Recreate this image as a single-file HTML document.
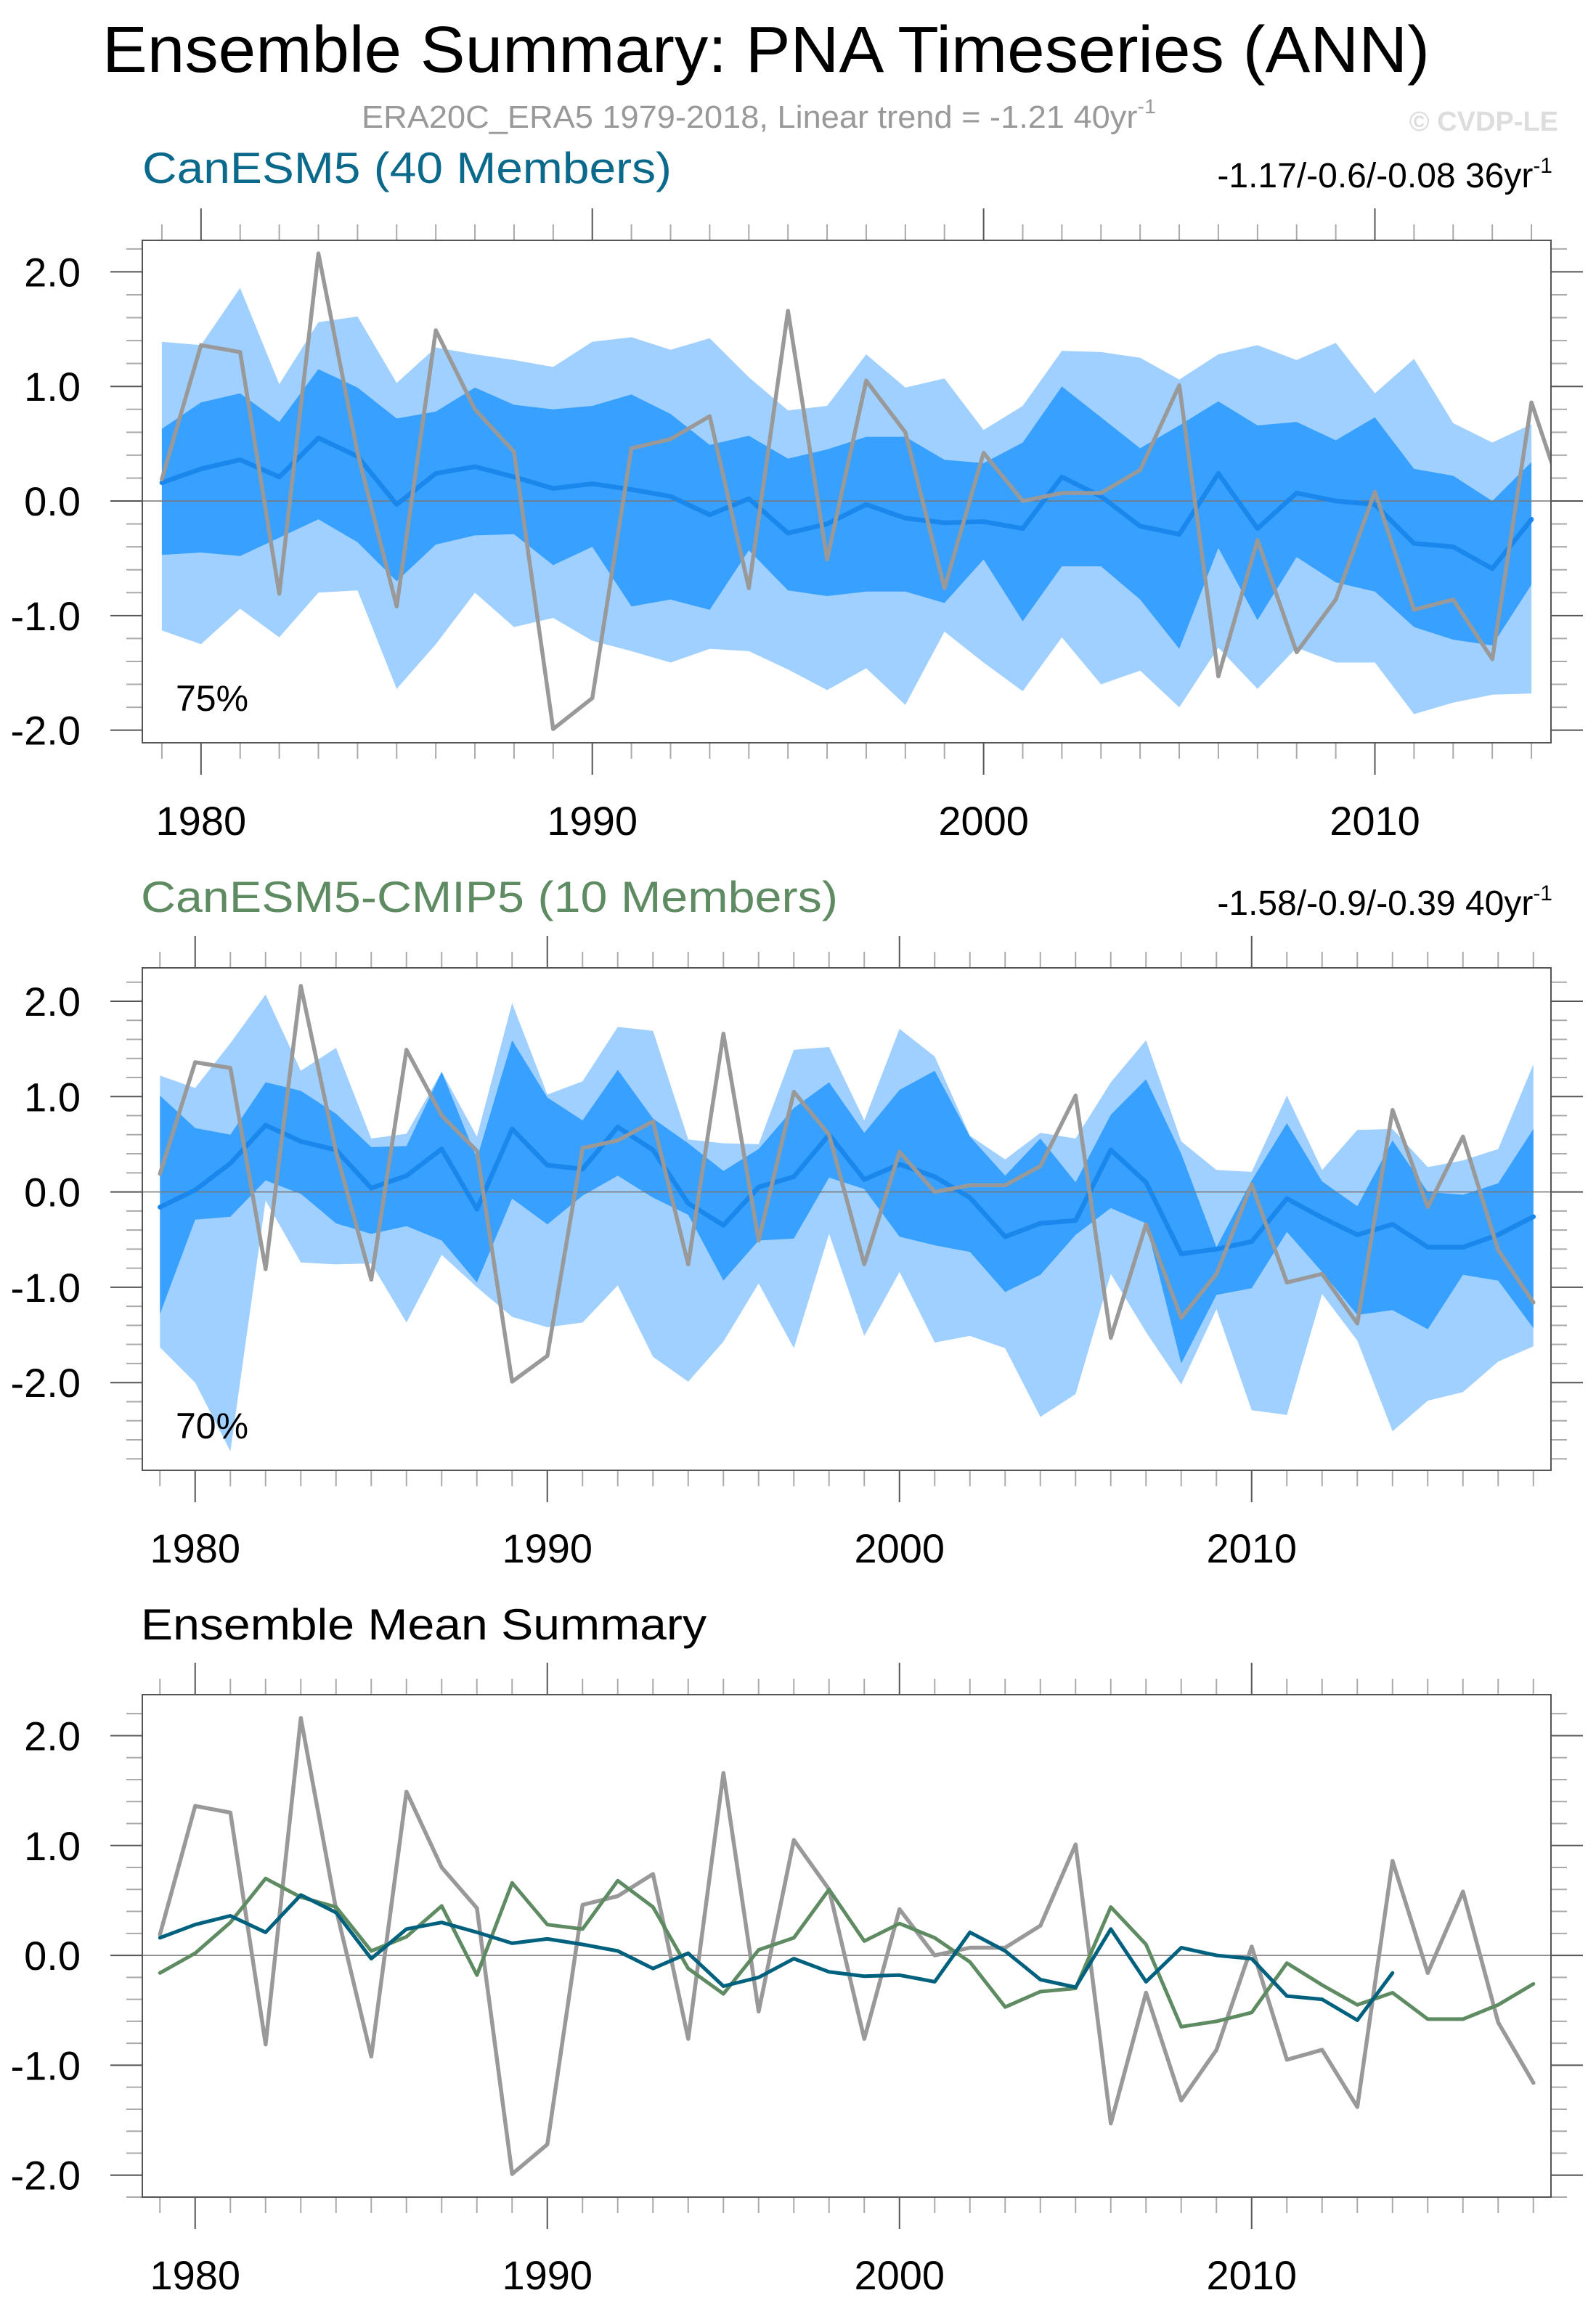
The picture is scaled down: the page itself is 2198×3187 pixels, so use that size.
<!DOCTYPE html>
<html>
<head>
<meta charset="utf-8">
<style>
html,body{margin:0;padding:0;background:#fff;}
svg{display:block;font-family:"Liberation Sans",sans-serif;}
</style>
</head>
<body>
<svg id="chart" xmlns="http://www.w3.org/2000/svg" width="2198" height="3187" viewBox="0 0 2198 3187">
  <rect x="0" y="0" width="2198" height="3187" fill="#fff"/>
  <text x="141" y="99" font-size="90" textLength="1828" lengthAdjust="spacingAndGlyphs" fill="#000">Ensemble Summary: PNA Timeseries (ANN)</text>
  <text x="498" y="176" font-size="44" fill="#999" textLength="1094" lengthAdjust="spacingAndGlyphs">ERA20C_ERA5 1979-2018, Linear trend = -1.21 40yr<tspan dy="-20" font-size="28">-1</tspan></text>
  <text x="2146" y="180" font-size="38" font-weight="bold" fill="#ddd" text-anchor="end">© CVDP-LE</text>

  <text x="196" y="252" font-size="60" fill="#0b6a8c" textLength="729" lengthAdjust="spacingAndGlyphs">CanESM5 (40 Members)</text>
  <text x="2138" y="258" font-size="48" fill="#000" text-anchor="end">-1.17/-0.6/-0.08 36yr<tspan dy="-20" font-size="30">-1</tspan></text>

  <text x="194" y="1256" font-size="60" fill="#5e8b62" textLength="960" lengthAdjust="spacingAndGlyphs">CanESM5-CMIP5 (10 Members)</text>
  <text x="2138" y="1260" font-size="48" fill="#000" text-anchor="end">-1.58/-0.9/-0.39 40yr<tspan dy="-20" font-size="30">-1</tspan></text>

  <text x="194" y="2258" font-size="60" fill="#000" textLength="779" lengthAdjust="spacingAndGlyphs">Ensemble Mean Summary</text>
  <g id="plots"></g>
</svg>
<script>
// ---------- data ----------
const obsYears0 = 1979;
const obsValues = [0.19,1.36,1.30,-0.81,2.16,0.42,-0.92,1.49,0.80,0.43,
  -1.99,-1.72,0.46,0.54,0.74,-0.76,1.66,-0.51,1.05,0.60,
  -0.76,0.42,0.00,0.07,0.07,0.27,1.01,-1.53,-0.34,-1.32,
  -0.86,0.08,-0.95,-0.86,-1.38,0.86,-0.16,0.58,-0.61,-1.16];

const canesm5Mean = [0.16,0.28,0.36,0.21,0.55,0.39,-0.03,0.24,0.30,0.21,
  0.11,0.15,0.10,0.04,-0.12,0.02,-0.28,-0.20,-0.03,-0.15,
  -0.19,-0.18,-0.24,0.21,0.04,-0.22,-0.29,0.24,-0.24,0.07,
  0.00,-0.03,-0.37,-0.40,-0.59,-0.16];
const canesm5OuterHigh = [1.39,1.36,1.86,1.02,1.56,1.61,1.03,1.34,1.28,1.23,
  1.17,1.39,1.43,1.32,1.42,1.08,0.79,0.83,1.28,0.99,
  1.07,0.62,0.83,1.31,1.30,1.25,1.06,1.28,1.36,1.23,
  1.38,0.94,1.24,0.68,0.51,0.67];
const canesm5InnerHigh = [0.63,0.86,0.94,0.69,1.15,0.99,0.72,0.78,0.99,0.84,
  0.80,0.83,0.93,0.76,0.49,0.57,0.37,0.45,0.56,0.56,
  0.36,0.33,0.51,1.00,0.73,0.46,0.66,0.87,0.66,0.69,
  0.53,0.73,0.28,0.22,0.00,0.34];
const canesm5InnerLow = [-0.47,-0.45,-0.48,-0.32,-0.16,-0.36,-0.70,-0.38,-0.30,-0.29,
  -0.56,-0.40,-0.92,-0.86,-0.95,-0.43,-0.78,-0.83,-0.79,-0.79,
  -0.89,-0.51,-1.05,-0.57,-0.57,-0.86,-1.29,-0.41,-1.04,-0.49,
  -0.71,-0.79,-1.10,-1.21,-1.26,-0.73];
const canesm5OuterLow = [-1.13,-1.25,-0.94,-1.19,-0.80,-0.78,-1.64,-1.25,-0.80,-1.10,
  -1.02,-1.22,-1.31,-1.41,-1.29,-1.31,-1.47,-1.65,-1.46,-1.78,
  -1.14,-1.41,-1.66,-1.19,-1.60,-1.48,-1.80,-1.28,-1.64,-1.28,
  -1.41,-1.41,-1.86,-1.76,-1.69,-1.68];

const cmip5Mean = [-0.16,0.02,0.30,0.70,0.53,0.44,0.04,0.17,0.45,-0.18,
  0.66,0.28,0.24,0.68,0.44,-0.12,-0.35,0.05,0.16,0.60,
  0.13,0.29,0.16,-0.06,-0.47,-0.33,-0.30,0.44,0.10,-0.65,
  -0.60,-0.52,-0.07,-0.27,-0.45,-0.34,-0.58,-0.58,-0.45,-0.26];
const cmip5OuterHigh = [1.22,1.09,1.56,2.07,1.27,1.51,0.56,0.61,1.26,0.58,
  1.98,1.02,1.16,1.73,1.69,0.55,0.51,0.50,1.49,1.52,
  0.75,1.71,1.42,0.59,0.34,0.62,0.56,1.15,1.59,0.53,
  0.23,0.21,1.01,0.23,0.65,0.66,0.26,0.33,0.45,1.34];
const cmip5InnerHigh = [1.01,0.67,0.60,1.15,1.06,0.82,0.47,0.48,1.26,0.35,
  1.59,0.99,0.75,1.28,0.77,0.51,0.22,0.45,0.88,1.15,
  0.62,1.07,1.27,0.58,0.17,0.56,0.10,0.81,1.18,0.40,
  -0.58,0.12,0.72,0.11,-0.15,0.54,0.00,-0.03,0.09,0.66];
const cmip5InnerLow = [-1.28,-0.29,-0.26,0.12,-0.02,-0.33,-0.44,-0.36,-0.51,-0.95,
  -0.07,-0.34,-0.04,0.17,-0.06,-0.24,-0.93,-0.51,-0.49,0.15,
  0.03,-0.47,-0.56,-0.63,-1.05,-0.87,-0.45,-0.17,-0.33,-1.80,
  -1.08,-1.01,-0.42,-0.84,-1.29,-1.24,-1.44,-0.87,-0.93,-1.43];
const cmip5OuterLow = [-1.63,-2.00,-2.72,-0.09,-0.74,-0.76,-0.75,-1.37,-0.66,-1.00,
  -1.31,-1.42,-1.37,-0.98,-1.73,-1.99,-1.57,-0.96,-1.64,-0.44,
  -1.51,-0.84,-1.58,-1.51,-1.64,-2.36,-2.12,-0.86,-1.47,-2.02,
  -1.23,-2.29,-2.34,-1.07,-1.56,-2.51,-2.19,-2.10,-1.78,-1.62];

const xTickLabels = ["1980","1990","2000","2010"];
const yTickLabels = ["-2.0","-1.0","0.0","1.0","2.0"];

// ---------- layout ----------
const NS = "http://www.w3.org/2000/svg";
const root = document.getElementById("plots");
function mk(tag, attrs, parent){
  const e = document.createElementNS(NS, tag);
  for (const k in attrs) e.setAttribute(k, attrs[k]);
  (parent||root).appendChild(e);
  return e;
}
const panels = [
  {id:"panel1", left:196, right:2136, top:331, bottom:1023, x0:1978.5, x1:2014.5, y0:-2.11, y1:2.275, pct:"75%"},
  {id:"panel2", left:196, right:2136, top:1333, bottom:2025, x0:1978.5, x1:2018.5, y0:-2.92, y1:2.35, pct:"70%"},
  {id:"panel3", left:196, right:2136, top:2334, bottom:3026, x0:1978.5, x1:2018.5, y0:-2.20, y1:2.373}
];
panels.forEach(p=>{
  p.sx = yr => p.left + (yr - p.x0)/(p.x1 - p.x0)*(p.right - p.left);
  p.sy = v => p.bottom - (v - p.y0)/(p.y1 - p.y0)*(p.bottom - p.top);
});
function pts(p, arr){ return arr.map((v,i)=>p.sx(obsYears0+i).toFixed(1)+","+p.sy(v).toFixed(1)); }
function band(p, hi, lo, fill, name){
  const a = pts(p, hi), b = pts(p, lo).reverse();
  const poly = mk("polygon", {points:a.concat(b).join(" "), fill:fill, "clip-path":"url(#clip-"+p.id+")"});
  
  
}
function line(p, arr, color, w, name){
  const pl = mk("polyline", {points:pts(p,arr).join(" "), fill:"none", stroke:color, "stroke-width":w, "stroke-linejoin":"round", "stroke-linecap":"round", "clip-path":"url(#clip-"+p.id+")"});
  
  
}

const defs = mk("defs", {});
panels.forEach(p=>{
  const cp = mk("clipPath", {id:"clip-"+p.id}, defs);
  mk("rect", {x:p.left, y:p.top, width:p.right-p.left, height:p.bottom-p.top}, cp);
});

function axes(p){
  const g = mk("g", {});
  
  
  for (let yr = Math.ceil(p.x0); yr <= p.x1; yr++){
    const x = p.sx(yr), major = yr % 10 === 0;
    const len = major ? 44 : 22, col = major ? "#555" : "#aaa";
    mk("line", {x1:x, x2:x, y1:p.top, y2:p.top-len, stroke:col, "stroke-width":2}, g);
    mk("line", {x1:x, x2:x, y1:p.bottom, y2:p.bottom+len, stroke:col, "stroke-width":2}, g);
  }
  xTickLabels.forEach(s=>{
    const t = mk("text", {x:p.sx(+s), y:p.bottom+127, "font-size":56, "text-anchor":"middle", fill:"#000"}, g);
    t.textContent = s;
    
    
  });
  for (let k = Math.ceil(p.y0*5); k <= Math.floor(p.y1*5); k++){
    const v = k/5, y = p.sy(v), major = k % 5 === 0;
    const len = major ? 44 : 22, col = major ? "#555" : "#aaa";
    mk("line", {x1:p.left, x2:p.left-len, y1:y, y2:y, stroke:col, "stroke-width":2}, g);
    mk("line", {x1:p.right, x2:p.right+len, y1:y, y2:y, stroke:col, "stroke-width":2}, g);
  }
  yTickLabels.forEach(s=>{
    const t = mk("text", {x:111, y:p.sy(+s)+20, "font-size":56, "text-anchor":"end", fill:"#000"}, g);
    t.textContent = s;
    
    
  });
  const z = mk("line", {x1:p.left, x2:p.right, y1:p.sy(0), y2:p.sy(0), stroke:"#777", "stroke-width":1.5}, g);
  
  
}
function frame(p){
  const r = mk("rect", {x:p.left, y:p.top, width:p.right-p.left, height:p.bottom-p.top, fill:"none", stroke:"#555", "stroke-width":2});
  
  
  if (p.pct){
    const t = mk("text", {x:242, y:p.bottom-44, "font-size":50, fill:"#000"});
    t.textContent = p.pct;
    
    
  }
}

const P1 = panels[0];
band(P1, canesm5OuterHigh, canesm5OuterLow, "#9fd0ff", "panel1-outer-band");
band(P1, canesm5InnerHigh, canesm5InnerLow, "#38a0ff", "panel1-inner-band");
axes(P1);
line(P1, canesm5Mean, "#1a87ec", 6.5, "panel1-ensemble-mean-line");
line(P1, obsValues, "#999", 5.5, "panel1-observed-line");
frame(P1);

const P2 = panels[1];
band(P2, cmip5OuterHigh, cmip5OuterLow, "#9fd0ff", "panel2-outer-band");
band(P2, cmip5InnerHigh, cmip5InnerLow, "#38a0ff", "panel2-inner-band");
axes(P2);
line(P2, cmip5Mean, "#1a87ec", 6.5, "panel2-ensemble-mean-line");
line(P2, obsValues, "#999", 5.5, "panel2-observed-line");
frame(P2);

const P3 = panels[2];
axes(P3);
line(P3, obsValues, "#999", 5.5, "panel3-observed-line");
line(P3, cmip5Mean, "#5e8b62", 5, "panel3-cmip5-mean-line");
line(P3, canesm5Mean, "#00617f", 5, "panel3-canesm5-mean-line");
frame(P3);
</script>
</body>
</html>
